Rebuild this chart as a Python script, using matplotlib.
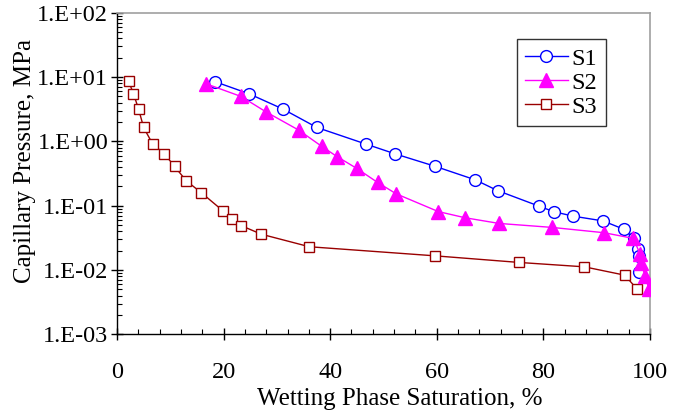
import glob
import numpy as np
import matplotlib
matplotlib.use("Agg")
import matplotlib.pyplot as plt
from matplotlib import font_manager
from matplotlib.ticker import LogLocator, FuncFormatter, MultipleLocator

# Times-like face: Liberation Serif if it can be found, else matplotlib's STIX
family = 'STIXGeneral'
for path in glob.glob('/usr/share/fonts/**/LiberationSerif-Regular.ttf', recursive=True):
    font_manager.fontManager.addfont(path)
    family = font_manager.FontProperties(fname=path).get_name()
    break
plt.rcParams['font.family'] = [family, 'DejaVu Serif']

# S1 - blue circles
s1_sat = [18.4, 24.8, 31.1, 37.5, 46.7, 52.2, 59.7, 67.2, 71.4, 79.1, 81.9, 85.5,
          91.2, 95.1, 97.0, 97.8, 98.0, 97.9]
s1_pc = [8.5, 5.5, 3.2, 1.65, 0.91, 0.64, 0.41, 0.253, 0.172, 0.099, 0.081, 0.069,
         0.058, 0.043, 0.031, 0.021, 0.0165, 0.0092]

# S2 - magenta triangles
s2_sat = [16.7, 23.3, 27.9, 34.1, 38.4, 41.3, 45.0, 48.9, 52.4, 60.3, 65.3, 71.7,
          81.6, 91.4, 96.9, 98.1, 98.3, 99.1, 99.8]
s2_pc = [7.9, 5.0, 2.9, 1.5, 0.84, 0.58, 0.38, 0.23, 0.153, 0.081, 0.065, 0.053,
         0.046, 0.038, 0.031, 0.018, 0.0127, 0.0081, 0.005]

# S3 - dark red squares
s3_sat = [2.2, 3.1, 4.05, 5.0, 6.7, 8.9, 10.8, 13.0, 15.8, 19.9, 21.6, 23.3, 27.1,
          36.1, 59.7, 75.5, 87.7, 95.3, 97.6]
s3_pc = [8.6, 5.5, 3.2, 1.65, 0.91, 0.64, 0.41, 0.244, 0.16, 0.083, 0.0615, 0.049,
         0.036, 0.023, 0.0166, 0.0131, 0.0112, 0.0083, 0.005]

fig = plt.figure(figsize=(6.73, 4.15), dpi=100)
ax = fig.add_axes([0.1738, 0.1945, 0.7920, 0.7745])

ax.plot(s1_sat, s1_pc, color='#0000FF', lw=1.0, marker='o', ms=8.5,
        mfc='white', mec='#0000FF', mew=1.0, label='S1', zorder=3)
ax.plot(s2_sat, s2_pc, color='#FF00FF', lw=1.0, marker='^', ms=9.5,
        mfc='#FF00FF', mec='#FF00FF', mew=1.0, label='S2', zorder=4)
ax.plot(s3_sat, s3_pc, color='#990000', lw=1.0, marker='s', ms=7.5,
        mfc='white', mec='#990000', mew=1.0, label='S3', zorder=3)

ax.set_yscale('log')
ax.set_xlim(0, 100)
ax.set_ylim(1e-3, 1e2)

ax.xaxis.set_major_locator(MultipleLocator(20))
ax.xaxis.set_minor_locator(MultipleLocator(4))
ax.yaxis.set_major_locator(LogLocator(base=10, numticks=10))
ax.yaxis.set_minor_locator(LogLocator(base=10, subs=np.arange(2, 10), numticks=20))
ax.yaxis.set_major_formatter(FuncFormatter(lambda v, p: "1.E%+03d" % int(round(np.log10(v)))))

ax.tick_params(which='major', direction='inout', length=8.6, width=1.0,
               labelsize=17.5, colors='black')
ax.tick_params(axis='y', which='major', pad=2)
ax.tick_params(axis='x', which='major', pad=16)
ax.tick_params(which='minor', direction='in', length=3.6, width=0.8)

for side in ['left', 'bottom']:
    ax.spines[side].set_color('black')
    ax.spines[side].set_linewidth(1.0)
for side in ['top', 'right']:
    ax.spines[side].set_color('#A0A0A0')
    ax.spines[side].set_linewidth(1.2)

ax.set_xlabel('Wetting Phase Saturation, %', fontsize=18, labelpad=3)
ax.xaxis.label.set_x(0.531)
ax.set_ylabel('Capillary Pressure, MPa', fontsize=18, labelpad=1)
ax.yaxis.label.set_y(0.54)

leg = ax.legend(loc='upper left', bbox_to_anchor=(516.7 / 673, 1 - 39.3 / 415),
                bbox_transform=fig.transFigure, fontsize=17.5, frameon=True,
                fancybox=False, edgecolor='black', handlelength=1.75,
                handletextpad=0.15, borderpad=0.35, labelspacing=0.08,
                borderaxespad=0)
leg.get_frame().set_linewidth(1.0)

fig.savefig('out.png', dpi=100)
